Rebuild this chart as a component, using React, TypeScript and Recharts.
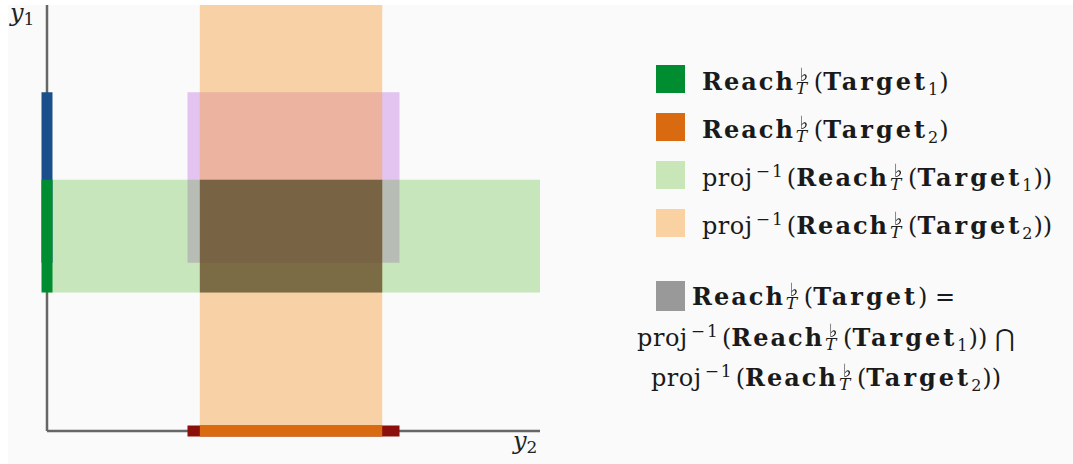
import React from "react";
import {
  ComposedChart,
  XAxis,
  YAxis,
  ReferenceArea,
  ReferenceLine,
  Label,
} from "recharts";

// intervals in data units (both axes run 0..10)
const target1Y = [3.25, 5.9]; // Reach(Target_1) on y1
const target2X = [3.1, 6.8]; // Reach(Target_2) on y2
const reachBoxX = [2.85, 7.15]; // reachable box, y2 extent
const reachBoxY = [3.95, 7.95]; // reachable box, y1 extent
const axisDomain = [0, 10];

const legendRows = [
  { color: "#008c30", kind: "reach", sub: "1" },
  { color: "#d96a10", kind: "reach", sub: "2" },
  { color: "#c8e6b8", kind: "proj", sub: "1" },
  { color: "#fad2a2", kind: "proj", sub: "2" },
];

const serif = "'DejaVu Serif', serif";

// "Reach" with a flat on top and T below, stacked like LaTeX
const ReachT = () => (
  <>
    <b style={{ letterSpacing: 2 }}>Reach</b>
    <span style={{ position: "relative", display: "inline-block", width: 19, height: 23 }}>
      <span
        style={{
          position: "absolute",
          left: 5,
          top: 1.7,
          fontSize: 18,
          lineHeight: 0.7,
          fontWeight: 700,
          fontFamily: "'DejaVu Sans', 'DejaVu Serif'",
          color: "#1a1a1a",
          filter: "grayscale(1) brightness(0.25)",
        }}
      >
        ♭
      </span>
      <span style={{ position: "absolute", left: 1, top: 16.1, fontSize: 17, lineHeight: 0.7, fontStyle: "italic" }}>
        T
      </span>
    </span>
  </>
);

const Target = ({ sub }: { sub?: string }) => (
  <>
    <b style={{ letterSpacing: 3 }}>Target</b>
    {sub && <sub style={{ fontSize: 16, verticalAlign: "-5px", lineHeight: 0, marginRight: 1 }}>{sub}</sub>}
  </>
);

const Proj = () => (
  <>
    <span style={{ letterSpacing: 0.5 }}>proj</span>
    <sup style={{ fontSize: 17, verticalAlign: "9px", lineHeight: 0, marginLeft: 3, marginRight: 2, letterSpacing: 2 }}>
      −1
    </sup>
  </>
);

const AxisName = ({ x, y, sub }: { x: number; y: number; sub: string }) => (
  <text x={x} y={y} fontFamily={serif} fontSize={24} fill="#222">
    <tspan fontStyle="italic">y</tspan>
    <tspan dy={4} fontSize={17}>
      {sub}
    </tspan>
  </text>
);

const App: React.FC = () => {
  return (
    <div style={{ position: "absolute", left: 0, top: 0, width: 1073, height: 464, background: "#fff" }}>
      <div style={{ position: "absolute", left: 8, top: 5, right: 0, bottom: 0, background: "#fafafa" }} />
      <div style={{ position: "absolute", left: 0, top: 0 }}>
        <ComposedChart
          width={1073}
          height={464}
          data={[]}
          margin={{ top: 5, right: 533, bottom: 33, left: 47 }}
        >
          <XAxis type="number" dataKey="x" domain={axisDomain} allowDataOverflow hide />
          <YAxis type="number" domain={axisDomain} allowDataOverflow hide />

          {/* axes */}
          <ReferenceLine
            segment={[{ x: 0, y: 0 }, { x: 0, y: 10 }]}
            stroke="#666"
            strokeWidth={2.5}
            ifOverflow="visible"
          >
            <Label content={() => <AxisName x={10} y={21} sub="1" />} />
          </ReferenceLine>
          <ReferenceLine
            segment={[{ x: 0, y: 0 }, { x: 10, y: 0 }]}
            stroke="#666"
            strokeWidth={2.5}
            ifOverflow="visible"
          >
            <Label content={() => <AxisName x={513} y={449} sub="2" />} />
          </ReferenceLine>

          {/* reachable box */}
          <ReferenceArea
            x1={reachBoxX[0]}
            x2={reachBoxX[1]}
            y1={reachBoxY[0]}
            y2={reachBoxY[1]}
            fill="#c070e0"
            fillOpacity={0.4}
            stroke="none"
          />
          {/* proj^-1 of target 2: vertical band */}
          <ReferenceArea
            x1={target2X[0]}
            x2={target2X[1]}
            fill="#f7a040"
            fillOpacity={0.45}
            stroke="none"
          />
          {/* proj^-1 of target 1: horizontal band */}
          <ReferenceArea
            y1={target1Y[0]}
            y2={target1Y[1]}
            fill="#32aa00"
            fillOpacity={0.25}
            stroke="none"
          />
          {/* intersection */}
          <ReferenceArea
            x1={target2X[0]}
            x2={target2X[1]}
            y1={target1Y[0]}
            y2={target1Y[1]}
            fill="#4a2e22"
            fillOpacity={0.6}
            stroke="none"
          />

          {/* projections on the axes */}
          <ReferenceLine
            segment={[{ x: 0, y: reachBoxY[0] }, { x: 0, y: reachBoxY[1] }]}
            stroke="#1a4f8c"
            strokeWidth={11}
            ifOverflow="visible"
          />
          <ReferenceLine
            segment={[{ x: 0, y: target1Y[0] }, { x: 0, y: target1Y[1] }]}
            stroke="#008c30"
            strokeWidth={11}
            ifOverflow="visible"
          />
          <ReferenceLine
            segment={[{ x: reachBoxX[0], y: 0 }, { x: reachBoxX[1], y: 0 }]}
            stroke="#8b0f0a"
            strokeWidth={11}
            ifOverflow="visible"
          />
          <ReferenceLine
            segment={[{ x: target2X[0], y: 0 }, { x: target2X[1], y: 0 }]}
            stroke="#d96a10"
            strokeWidth={11}
            ifOverflow="visible"
          />
        </ComposedChart>
      </div>

      {/* legend */}
      <div style={{ position: "absolute", left: 0, top: 0, fontFamily: serif, fontSize: 24, color: "#1a1a1a" }}>
        {legendRows.map((row, i) => (
          <div key={i}>
            <span
              style={{
                position: "absolute",
                left: 656,
                top: 65 + i * 48,
                width: 29,
                height: 28,
                background: row.color,
              }}
            />
            <div
              style={{
                position: "absolute",
                left: 702,
                top: 67 + i * 48,
                whiteSpace: "nowrap",
                lineHeight: "30px",
              }}
            >
              {row.kind === "proj" && <Proj />}
              {row.kind === "proj" && "("}
              <ReachT />(<Target sub={row.sub} />)
              {row.kind === "proj" && ")"}
            </div>
          </div>
        ))}
        <span style={{ position: "absolute", left: 656, top: 281, width: 29, height: 30, background: "#999" }} />
        <div style={{ position: "absolute", left: 692, top: 282, whiteSpace: "nowrap", lineHeight: "30px" }}>
          <ReachT />(<Target />) =
        </div>
        <div
          style={{
            position: "absolute",
            left: 596,
            width: 460,
            top: 318,
            textAlign: "center",
            whiteSpace: "nowrap",
            lineHeight: "39px",
          }}
        >
          <div>
            <Proj />(<ReachT />(<Target sub="1" />)) ⋂
          </div>
          <div>
            <Proj />(<ReachT />(<Target sub="2" />))
          </div>
        </div>
      </div>
    </div>
  );
};

export default App;
